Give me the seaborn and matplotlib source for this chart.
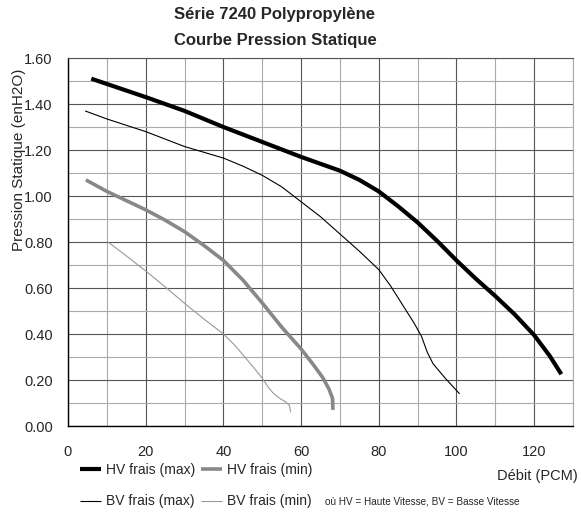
import numpy as np
import pandas as pd
import matplotlib
matplotlib.use("Agg")
import matplotlib.pyplot as plt
import matplotlib.ticker as mticker
import seaborn as sns

# ------------------------------------------------------------
# Données (Débit en PCM, pression en enH2O)
# ------------------------------------------------------------
hv_max_x = [6, 20, 30, 40, 50, 60, 65, 70, 75, 80, 85, 90, 95, 100, 105, 110, 115, 120, 124, 127]
hv_max_y = [1.51, 1.43, 1.37, 1.30, 1.235, 1.17, 1.14, 1.11, 1.07, 1.02, 0.955, 0.885, 0.805,
            0.72, 0.64, 0.565, 0.485, 0.395, 0.305, 0.225]

hv_min_x = [4.6, 10, 15, 20, 25, 30, 35, 40, 45, 50, 55, 60, 63, 65.6, 67.2, 68.1, 68.2]
hv_min_y = [1.07, 1.02, 0.98, 0.94, 0.895, 0.845, 0.785, 0.72, 0.635, 0.535, 0.43, 0.335,
            0.27, 0.21, 0.16, 0.12, 0.07]

bv_max_x = [4.4, 10, 20, 30, 40, 45, 50, 55, 60, 65, 70, 75, 80, 83, 86, 89, 91, 92.5, 94,
            97, 100.8]
bv_max_y = [1.37, 1.335, 1.28, 1.215, 1.165, 1.13, 1.09, 1.04, 0.975, 0.91, 0.835, 0.76, 0.68,
            0.61, 0.53, 0.45, 0.39, 0.32, 0.27, 0.21, 0.14]

bv_min_x = [10.3, 15, 20.3, 25, 30.6, 35, 40, 43, 46, 48, 49.9, 51.5, 52.7, 54.5, 56, 57, 57.3]
bv_min_y = [0.80, 0.74, 0.67, 0.605, 0.525, 0.465, 0.40, 0.35, 0.29, 0.25, 0.21, 0.17, 0.145,
            0.12, 0.105, 0.09, 0.06]

series_names = ["HV frais (max)", "HV frais (min)", "BV frais (max)", "BV frais (min)"]

x_ticks = [0, 20, 40, 60, 80, 100, 120]
y_ticks = [0.0, 0.2, 0.4, 0.6, 0.8, 1.0, 1.2, 1.4, 1.6]

# ------------------------------------------------------------
# Style
# ------------------------------------------------------------
sns.set_style("white")
plt.rcParams["font.family"] = ["Liberation Sans", "DejaVu Sans"]

styles = {
    "HV frais (max)": dict(color="#000000", lw=3.0),
    "HV frais (min)": dict(color="#888888", lw=2.6),
    "BV frais (max)": dict(color="#000000", lw=0.8),
    "BV frais (min)": dict(color="#999999", lw=0.8),
}

data = {
    "HV frais (max)": (hv_max_x, hv_max_y),
    "HV frais (min)": (hv_min_x, hv_min_y),
    "BV frais (max)": (bv_max_x, bv_max_y),
    "BV frais (min)": (bv_min_x, bv_min_y),
}

fig = plt.figure(figsize=(5.81, 5.13), dpi=100)
ax = fig.add_axes([68 / 581, 1 - 426 / 513, (573 - 68) / 581, (426 - 58) / 513])

for name in series_names:
    xs, ys = data[name]
    df = pd.DataFrame({"x": xs, "y": ys})
    sns.lineplot(data=df, x="x", y="y", ax=ax, sort=False, estimator=None,
                 color=styles[name]["color"], linewidth=styles[name]["lw"],
                 label=name, solid_capstyle="butt", solid_joinstyle="round")

ax.set_xlim(0, 130)
ax.set_ylim(0, 1.6)
ax.set_xticks(x_ticks)
ax.set_yticks(y_ticks)
ax.xaxis.set_minor_locator(mticker.MultipleLocator(10))
ax.yaxis.set_minor_locator(mticker.MultipleLocator(0.1))
ax.yaxis.set_major_formatter(mticker.FormatStrFormatter("%.2f"))

ax.grid(True, which="major", color="#555555", linewidth=0.8)
ax.grid(True, which="minor", color="#aaaaaa", linewidth=0.8)
ax.set_axisbelow(True)

ax.tick_params(axis="both", which="major", direction="out", length=5, width=0.8,
               color="#000000", labelsize=10.5, pad=6)
ax.tick_params(axis="both", which="minor", length=0)
ax.tick_params(axis="x", pad=9)

for side in ["left", "bottom"]:
    ax.spines[side].set_color("#000000")
    ax.spines[side].set_linewidth(1.0)
ax.spines["top"].set_color("#555555")
ax.spines["top"].set_linewidth(0.8)
ax.spines["right"].set_color("#aaaaaa")
ax.spines["right"].set_linewidth(0.8)

ax.set_xlabel("")
ax.set_ylabel("")

# Titres et étiquettes
fig.text(275 / 581, 1 - 15 / 513, "Série 7240 Polypropylène", ha="center", va="center",
         fontsize=12, fontweight="bold")
fig.text(275 / 581, 1 - 41 / 513, "Courbe Pression Statique", ha="center", va="center",
         fontsize=12, fontweight="bold")
fig.text(19 / 581, 1 - 160 / 513, "Pression Statique (enH2O)", rotation=90,
         ha="center", va="center", fontsize=11)
fig.text(578 / 581, 1 - 476 / 513, "Débit (PCM)", ha="right", va="center", fontsize=10.5)
fig.text(325 / 581, 1 - 502 / 513, "où HV = Haute Vitesse, BV = Basse Vitesse",
         ha="left", va="center", fontsize=7.2)

# Légende : ligne 1 = HV, ligne 2 = BV
ax.legend_.remove()
handles, labels = ax.get_legend_handles_labels()
order = [0, 2, 1, 3]
fig.legend([handles[i] for i in order], [labels[i] for i in order],
           loc="upper left", bbox_to_anchor=(80 / 581, 1 - 463 / 513),
           ncol=2, frameon=False, fontsize=10, handlelength=1.5, handletextpad=0.36,
           columnspacing=0.45, labelspacing=1.25, borderpad=0, borderaxespad=0)

fig.savefig("out.png", dpi=100)
